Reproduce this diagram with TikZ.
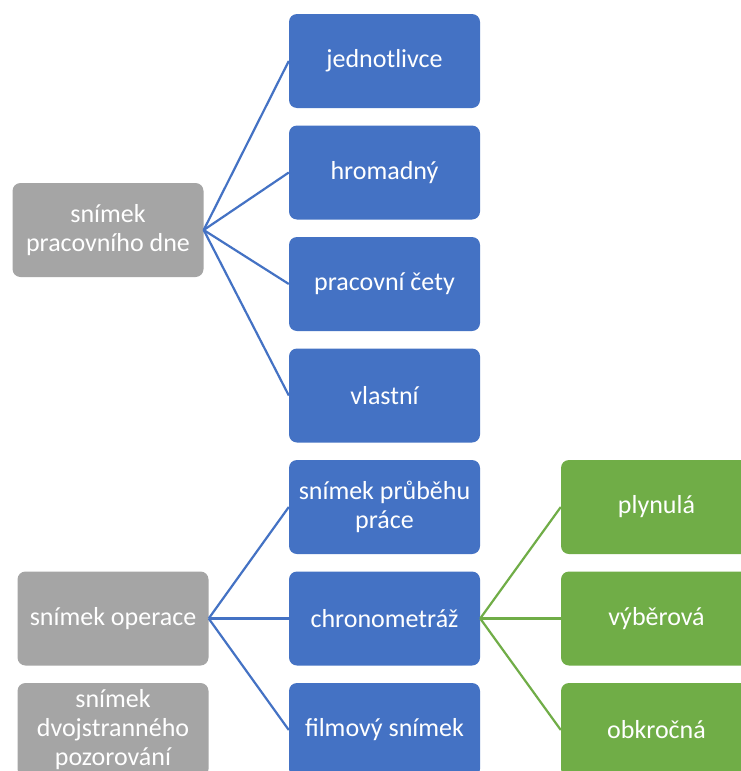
\documentclass[tikz,border=0pt]{standalone}
\usepackage{fontspec}
\setmainfont{Carlito}
\definecolor{boxblue}{HTML}{4472C4}
\definecolor{boxgrey}{HTML}{A5A5A5}
\definecolor{boxgreen}{HTML}{70AD47}
\begin{document}
\begin{tikzpicture}[x=1pt,y=-1pt,
  card/.style={rounded corners=8pt, minimum width=191pt, minimum height=94pt,
    inner sep=2pt, text=white, align=center,
    font=\fontsize{26}{29}\selectfont},
  bluecard/.style={card, fill=boxblue},
  greycard/.style={card, fill=boxgrey},
  greencard/.style={card, fill=boxgreen},
  bluelink/.style={draw=boxblue, line width=2.2pt},
  greenlink/.style={draw=boxgreen, line width=2.2pt}]
\useasboundingbox (0,0) rectangle (741,771);
\clip (0,0) rectangle (741,771);
\fill[white] (0,0) rectangle (741,771);

% left column
\node[greycard] (den) at (108,230) {snímek\\pracovního dne};
\node[greycard] (oper) at (113,618.5) {snímek operace};
\node[greycard] (dvoj) at (113,730) {snímek\\dvojstranného\\pozorování};

% middle column
\node[bluecard] (jed) at (384.5,61) {jednotlivce};
\node[bluecard] (hrom) at (384.5,172.5) {hromadný};
\node[bluecard] (cety) at (384.5,284) {pracovní čety};
\node[bluecard] (vlast) at (384.5,395.5) {vlastní};
\node[bluecard] (prub) at (384.5,507) {snímek průběhu\\práce};
\node[bluecard] (chrono) at (384.5,618.5) {chronometráž};
\node[bluecard] (film) at (384.5,730) {filmový snímek};

% right column
\node[greencard] (plyn) at (656.5,507) {plynulá};
\node[greencard] (vyb) at (656.5,618.5) {výběrová};
\node[greencard] (obk) at (656.5,730) {obkročná};

% connectors
\foreach \t in {jed,hrom,cety,vlast}
  \draw[bluelink] (den.east) -- (\t.west);
\foreach \t in {prub,chrono,film}
  \draw[bluelink] (oper.east) -- (\t.west);
\foreach \t in {plyn,vyb,obk}
  \draw[greenlink] (chrono.east) -- (\t.west);
\end{tikzpicture}
\end{document}
